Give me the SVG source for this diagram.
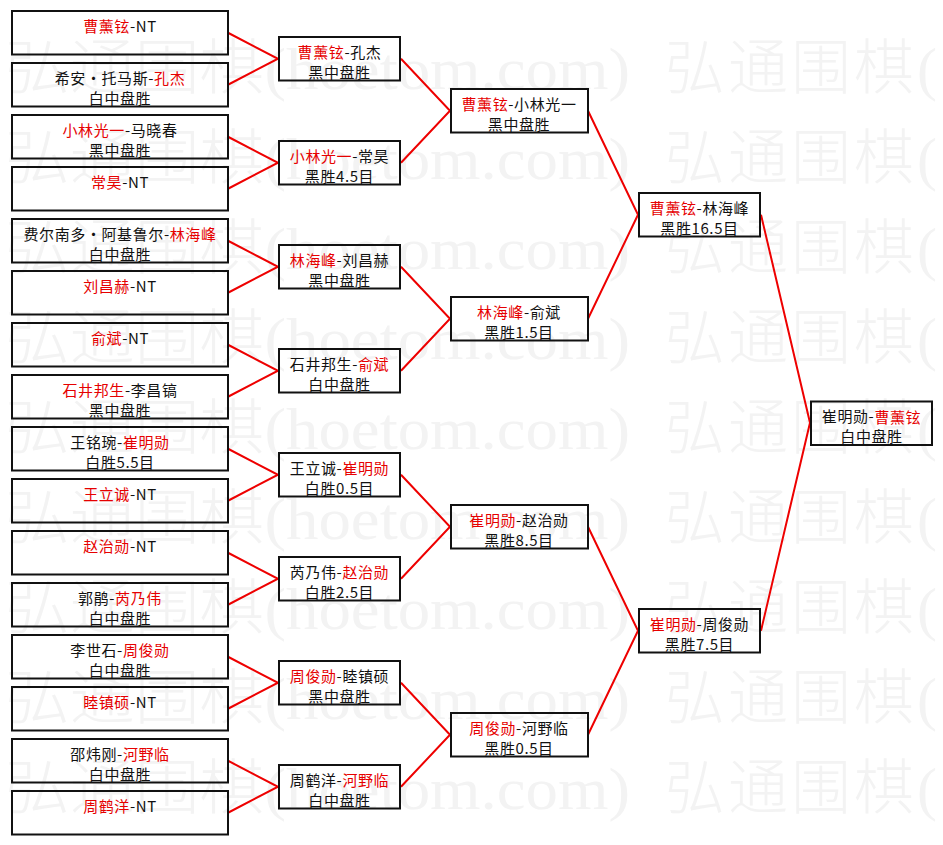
<svg xmlns="http://www.w3.org/2000/svg" width="943" height="845" viewBox="0 0 943 845">
<style>
.wm{font-family:"Liberation Serif","Noto Sans CJK SC",serif;font-size:60px;font-weight:300;fill:#f3f3f3}
.wm2{font-family:"Liberation Serif","Noto Sans CJK SC",serif;font-size:60px;font-weight:300;fill:#f3f3f3;letter-spacing:3px}
.box{fill:none;stroke:#111;stroke-width:2}
.t{font-family:"Noto Sans CJK SC","Noto Sans",sans-serif;font-size:15px;letter-spacing:0.6px;fill:#111;text-anchor:middle;dominant-baseline:central}
.r{fill:#e60000}
.c{fill:none;stroke:#ee0000;stroke-width:2}
.fw{font-feature-settings:"fwid"}
</style>
<rect width="943" height="845" fill="#fff"/>
<g id="watermark">
<text class="wm" x="5" y="89" textLength="625" lengthAdjust="spacingAndGlyphs">弘通围棋(hoetom.com)</text><text class="wm2" x="665" y="89">弘通围棋(</text>
<text class="wm" x="5" y="179" textLength="625" lengthAdjust="spacingAndGlyphs">弘通围棋(hoetom.com)</text><text class="wm2" x="665" y="179">弘通围棋(</text>
<text class="wm" x="5" y="269" textLength="625" lengthAdjust="spacingAndGlyphs">弘通围棋(hoetom.com)</text><text class="wm2" x="665" y="269">弘通围棋(</text>
<text class="wm" x="5" y="359" textLength="625" lengthAdjust="spacingAndGlyphs">弘通围棋(hoetom.com)</text><text class="wm2" x="665" y="359">弘通围棋(</text>
<text class="wm" x="5" y="449" textLength="625" lengthAdjust="spacingAndGlyphs">弘通围棋(hoetom.com)</text><text class="wm2" x="665" y="449">弘通围棋(</text>
<text class="wm" x="5" y="539" textLength="625" lengthAdjust="spacingAndGlyphs">弘通围棋(hoetom.com)</text><text class="wm2" x="665" y="539">弘通围棋(</text>
<text class="wm" x="5" y="629" textLength="625" lengthAdjust="spacingAndGlyphs">弘通围棋(hoetom.com)</text><text class="wm2" x="665" y="629">弘通围棋(</text>
<text class="wm" x="5" y="719" textLength="625" lengthAdjust="spacingAndGlyphs">弘通围棋(hoetom.com)</text><text class="wm2" x="665" y="719">弘通围棋(</text>
<text class="wm" x="5" y="809" textLength="625" lengthAdjust="spacingAndGlyphs">弘通围棋(hoetom.com)</text><text class="wm2" x="665" y="809">弘通围棋(</text>
</g>
<g id="connectors">
<polyline class="c" points="228,32.75 278,58.75 228,84.75"/>
<polyline class="c" points="228,136.75 278,162.75 228,188.75"/>
<polyline class="c" points="228,240.75 278,266.75 228,292.75"/>
<polyline class="c" points="228,344.75 278,370.75 228,396.75"/>
<polyline class="c" points="228,448.75 278,474.75 228,500.75"/>
<polyline class="c" points="228,552.75 278,578.75 228,604.75"/>
<polyline class="c" points="228,656.75 278,682.75 228,708.75"/>
<polyline class="c" points="228,760.75 278,786.75 228,812.75"/>
<polyline class="c" points="401,58.75 450,110.75 401,162.75"/>
<polyline class="c" points="401,266.75 450,318.75 401,370.75"/>
<polyline class="c" points="401,474.75 450,526.75 401,578.75"/>
<polyline class="c" points="401,682.75 450,734.75 401,786.75"/>
<polyline class="c" points="588,110.75 638,214.75 588,318.75"/>
<polyline class="c" points="588,526.75 638,630.75 588,734.75"/>
<polyline class="c" points="761,214.75 810,422.75 761,630.75"/>
</g>
<g id="r1-1"><rect class="box" x="12" y="11" width="216" height="43.5"/><text class="t" x="120" y="25"><tspan class="r">曹薰铉</tspan>-NT</text></g>
<g id="r1-2"><rect class="box" x="12" y="63" width="216" height="43.5"/><text class="t" x="120" y="77">希安<tspan class="fw">·</tspan>托马斯-<tspan class="r">孔杰</tspan></text><text class="t" x="120" y="97">白中盘胜</text></g>
<g id="r1-3"><rect class="box" x="12" y="115" width="216" height="43.5"/><text class="t" x="120" y="129"><tspan class="r">小林光一</tspan>-马晓春</text><text class="t" x="120" y="149">黑中盘胜</text></g>
<g id="r1-4"><rect class="box" x="12" y="167" width="216" height="43.5"/><text class="t" x="120" y="181"><tspan class="r">常昊</tspan>-NT</text></g>
<g id="r1-5"><rect class="box" x="12" y="219" width="216" height="43.5"/><text class="t" x="120" y="233">费尔南多<tspan class="fw">·</tspan>阿基鲁尔-<tspan class="r">林海峰</tspan></text><text class="t" x="120" y="253">白中盘胜</text></g>
<g id="r1-6"><rect class="box" x="12" y="271" width="216" height="43.5"/><text class="t" x="120" y="285"><tspan class="r">刘昌赫</tspan>-NT</text></g>
<g id="r1-7"><rect class="box" x="12" y="323" width="216" height="43.5"/><text class="t" x="120" y="337"><tspan class="r">俞斌</tspan>-NT</text></g>
<g id="r1-8"><rect class="box" x="12" y="375" width="216" height="43.5"/><text class="t" x="120" y="389"><tspan class="r">石井邦生</tspan>-李昌镐</text><text class="t" x="120" y="409">黑中盘胜</text></g>
<g id="r1-9"><rect class="box" x="12" y="427" width="216" height="43.5"/><text class="t" x="120" y="441">王铭琬-<tspan class="r">崔明勋</tspan></text><text class="t" x="120" y="461">白胜5.5目</text></g>
<g id="r1-10"><rect class="box" x="12" y="479" width="216" height="43.5"/><text class="t" x="120" y="493"><tspan class="r">王立诚</tspan>-NT</text></g>
<g id="r1-11"><rect class="box" x="12" y="531" width="216" height="43.5"/><text class="t" x="120" y="545"><tspan class="r">赵治勋</tspan>-NT</text></g>
<g id="r1-12"><rect class="box" x="12" y="583" width="216" height="43.5"/><text class="t" x="120" y="597">郭鹃-<tspan class="r">芮乃伟</tspan></text><text class="t" x="120" y="617">白中盘胜</text></g>
<g id="r1-13"><rect class="box" x="12" y="635" width="216" height="43.5"/><text class="t" x="120" y="649">李世石-<tspan class="r">周俊勋</tspan></text><text class="t" x="120" y="669">白中盘胜</text></g>
<g id="r1-14"><rect class="box" x="12" y="687" width="216" height="43.5"/><text class="t" x="120" y="701"><tspan class="r">睦镇硕</tspan>-NT</text></g>
<g id="r1-15"><rect class="box" x="12" y="739" width="216" height="43.5"/><text class="t" x="120" y="753">邵炜刚-<tspan class="r">河野临</tspan></text><text class="t" x="120" y="773">白中盘胜</text></g>
<g id="r1-16"><rect class="box" x="12" y="791" width="216" height="43.5"/><text class="t" x="120" y="805"><tspan class="r">周鹤洋</tspan>-NT</text></g>
<g id="r2-1"><rect class="box" x="279" y="37" width="121" height="43.5"/><text class="t" x="339.5" y="51"><tspan class="r">曹薰铉</tspan>-孔杰</text><text class="t" x="339.5" y="71">黑中盘胜</text></g>
<g id="r2-2"><rect class="box" x="279" y="141" width="121" height="43.5"/><text class="t" x="339.5" y="155"><tspan class="r">小林光一</tspan>-常昊</text><text class="t" x="339.5" y="175">黑胜4.5目</text></g>
<g id="r2-3"><rect class="box" x="279" y="245" width="121" height="43.5"/><text class="t" x="339.5" y="259"><tspan class="r">林海峰</tspan>-刘昌赫</text><text class="t" x="339.5" y="279">黑中盘胜</text></g>
<g id="r2-4"><rect class="box" x="279" y="349" width="121" height="43.5"/><text class="t" x="339.5" y="363">石井邦生-<tspan class="r">俞斌</tspan></text><text class="t" x="339.5" y="383">白中盘胜</text></g>
<g id="r2-5"><rect class="box" x="279" y="453" width="121" height="43.5"/><text class="t" x="339.5" y="467">王立诚-<tspan class="r">崔明勋</tspan></text><text class="t" x="339.5" y="487">白胜0.5目</text></g>
<g id="r2-6"><rect class="box" x="279" y="557" width="121" height="43.5"/><text class="t" x="339.5" y="571">芮乃伟-<tspan class="r">赵治勋</tspan></text><text class="t" x="339.5" y="591">白胜2.5目</text></g>
<g id="r2-7"><rect class="box" x="279" y="661" width="121" height="43.5"/><text class="t" x="339.5" y="675"><tspan class="r">周俊勋</tspan>-睦镇硕</text><text class="t" x="339.5" y="695">黑中盘胜</text></g>
<g id="r2-8"><rect class="box" x="279" y="765" width="121" height="43.5"/><text class="t" x="339.5" y="779">周鹤洋-<tspan class="r">河野临</tspan></text><text class="t" x="339.5" y="799">白中盘胜</text></g>
<g id="r3-1"><rect class="box" x="451" y="89" width="137" height="43.5"/><text class="t" x="519" y="103"><tspan class="r">曹薰铉</tspan>-小林光一</text><text class="t" x="519" y="123">黑中盘胜</text></g>
<g id="r3-2"><rect class="box" x="451" y="297" width="137" height="43.5"/><text class="t" x="519" y="311"><tspan class="r">林海峰</tspan>-俞斌</text><text class="t" x="519" y="331">黑胜1.5目</text></g>
<g id="r3-3"><rect class="box" x="451" y="505" width="137" height="43.5"/><text class="t" x="519" y="519"><tspan class="r">崔明勋</tspan>-赵治勋</text><text class="t" x="519" y="539">黑胜8.5目</text></g>
<g id="r3-4"><rect class="box" x="451" y="713" width="137" height="43.5"/><text class="t" x="519" y="727"><tspan class="r">周俊勋</tspan>-河野临</text><text class="t" x="519" y="747">黑胜0.5目</text></g>
<g id="r4-1"><rect class="box" x="639" y="193" width="121" height="43.5"/><text class="t" x="699.5" y="207"><tspan class="r">曹薰铉</tspan>-林海峰</text><text class="t" x="699.5" y="227">黑胜16.5目</text></g>
<g id="r4-2"><rect class="box" x="639" y="609" width="121" height="43.5"/><text class="t" x="699.5" y="623"><tspan class="r">崔明勋</tspan>-周俊勋</text><text class="t" x="699.5" y="643">黑胜7.5目</text></g>
<g id="final"><rect class="box" x="811" y="401.5" width="121" height="43.5"/><text class="t" x="871.5" y="415.5">崔明勋-<tspan class="r">曹薰铉</tspan></text><text class="t" x="871.5" y="435.5">白中盘胜</text></g>
</svg>
